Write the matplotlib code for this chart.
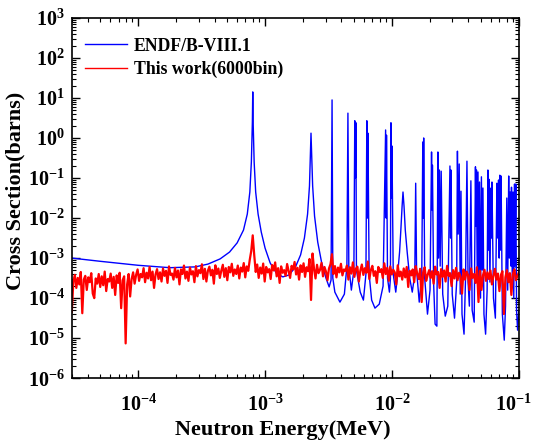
import numpy as np
import matplotlib
matplotlib.use("Agg")
import matplotlib.pyplot as plt
from matplotlib.ticker import LogLocator, FuncFormatter, NullFormatter
from matplotlib.transforms import ScaledTranslation

plt.rcParams["font.family"] = ["Liberation Serif", "DejaVu Serif"]
plt.rcParams["font.weight"] = "bold"
plt.rcParams["mathtext.fontset"] = "custom"
plt.rcParams["mathtext.rm"] = "Liberation Serif:bold"
plt.rcParams["mathtext.bf"] = "Liberation Serif:bold"
plt.rcParams["mathtext.it"] = "Liberation Serif:bold:italic"

# ENDF/B-VIII.1 curve, vertices as (log10 E [MeV], log10 sigma [b])
endf_log_e = [
    -4.523, -4.30, -4.00, -3.75, -3.55, -3.45, -3.354, -3.28, -3.22, -3.17,
    -3.14, -3.12, -3.108, -3.100, -3.097, -3.094, -3.086, -3.074, -3.055, -3.03,
    -3.00, -2.96, -2.91, -2.86, -2.81, -2.76, -2.72, -2.69, -2.665, -2.65,
    -2.642, -2.638, -2.634, -2.625, -2.61, -2.585, -2.555, -2.52, -2.495, -2.480,
    -2.472, -2.466, -2.45, -2.41, -2.375, -2.355, -2.347, -2.340, -2.32, -2.30,
    -2.293, -2.288, -2.284, -2.28, -2.25, -2.225, -2.205, -2.198, -2.193, -2.189,
    -2.18, -2.16, -2.134, -2.10, -2.07, -2.050, -2.046, -2.043, -2.035, -2.02,
    -2.012, -2.008, -2.003, -2.000, -1.99, -1.97, -1.955, -1.94, -1.93, -1.92,
    -1.913, -1.905, -1.895, -1.88, -1.86, -1.84, -1.82, -1.813, -1.806, -1.785,
    -1.765, -1.757, -1.753, -1.750, -1.742, -1.72, -1.70, -1.688, -1.684, -1.681,
    -1.672, -1.660, -1.646, -1.638, -1.633, -1.626, -1.620, -1.612, -1.600, -1.58,
    -1.560, -1.543, -1.538, -1.535, -1.525, -1.507, -1.490, -1.484, -1.478, -1.470,
    -1.462, -1.456, -1.448, -1.432, -1.420, -1.409, -1.400, -1.390, -1.378, -1.368,
    -1.352, -1.342, -1.338, -1.334, -1.328, -1.322, -1.316, -1.310, -1.302, -1.295,
    -1.289, -1.283, -1.275, -1.262, -1.250, -1.244, -1.240, -1.236, -1.228, -1.220,
    -1.215, -1.212, -1.200, -1.185, -1.173, -1.167, -1.160, -1.155, -1.150, -1.145,
    -1.140, -1.130, -1.115, -1.105, -1.095, -1.088, -1.080, -1.075, -1.068, -1.062,
    -1.058, -1.052, -1.046, -1.040, -1.034, -1.030, -1.024, -1.018, -1.010, -1.000,
]
endf_log_xs = [
    -3.00, -3.08, -3.18, -3.24, -3.22, -3.15, -3.02, -2.85, -2.62, -2.30,
    -1.90, -1.35, -0.60, 0.40, 1.15, 0.40, -0.60, -1.35, -1.90, -2.35,
    -2.75, -3.12, -3.38, -3.47, -3.42, -3.22, -2.92, -2.50, -1.90, -1.20,
    -0.30, 0.12, -0.30, -1.20, -1.95, -2.60, -3.10, -3.50, -3.72, -3.55,
    0.95, -3.50, -3.85, -4.10, -3.90, -3.20, 0.62, -3.20, -3.80, -3.30,
    0.43, -1.00, 0.38, -3.30, -3.85, -4.05, -3.40, 0.43, -2.00, 0.12,
    -3.40, -4.05, -4.25, -4.15, -3.70, 0.20, -2.00, 0.07, -3.50, -3.85,
    -3.50, 0.38, -1.50, -0.20, -3.40, -3.85, -3.40, -2.85, -2.30, -1.70,
    -1.35, -1.70, -2.30, -2.85, -3.50, -3.85, -3.40, -1.13, -3.30, -4.10,
    -3.40, -0.10, -2.00, 0.00, -3.50, -4.40, -3.80, -0.35, -1.80, -0.68,
    -3.60, -4.65, -4.70, -0.35, -3.00, -0.80, -3.20, -0.83, -3.90, -4.45,
    -4.20, -0.70, -2.50, -0.80, -3.90, -4.50, -3.60, -0.33, -2.40, -0.65,
    -3.90, -1.33, -4.40, -4.90, -3.50, -0.58, -3.60, -4.20, -1.07, -4.30,
    -4.60, -0.72, -2.20, -0.80, -3.50, -0.85, -3.60, -1.10, -4.00, -0.97,
    -3.30, -1.25, -4.40, -4.90, -3.80, -0.80, -2.80, -1.03, -3.60, -1.25,
    -2.50, -1.10, -4.00, -4.50, -1.13, -2.50, -1.05, -3.00, -0.93, -2.80,
    -0.95, -4.40, -5.05, -4.20, -1.50, -3.80, -0.95, -3.00, -1.35, -3.20,
    -1.23, -3.50, -1.35, -4.00, -1.15, -3.20, -1.15, -4.30, -4.80, -4.30,
]

# This work (6000 bins), sampled values in units of 1e-4 barn, log-spaced energy bins
red_range = (3e-5, 0.1)
red_xs_1e4 = [
    0.45, 2.6, 3.8, 1.8, 3.2, 2.2, 4.5, 0.42, 2.9, 3.6, 1.6, 3.3, 2.5, 4.2, 1.3, 1.0, 3.1, 2.3, 4.0, 1.9,
    3.5, 2.1, 4.6, 1.5, 3.0, 2.6, 4.1, 1.8, 3.4, 1.2, 3.7, 2.4, 4.3, 0.56, 2.8, 3.5, 0.074, 2.2, 4.0, 1.1,
    3.0, 4.4, 2.3, 3.8, 5.2, 2.7, 4.0, 3.3, 5.6, 2.5, 4.3, 3.1, 6.0, 2.8, 4.6, 1.8, 3.9, 5.3, 3.0, 4.4,
    2.6, 5.5, 3.6, 4.8, 2.4, 6.2, 3.8, 4.1, 2.9, 5.7, 3.3, 4.9, 2.2, 5.2, 4.0, 6.5, 3.1, 4.6, 2.7, 5.8,
    3.9, 4.7, 2.5, 6.3, 3.5, 5.0, 4.2, 7.0, 3.0, 5.4, 2.6, 4.8, 6.1, 3.7, 5.1, 2.3, 6.6, 4.0, 5.5, 3.2,
    4.9, 6.8, 3.4, 5.6, 2.8, 6.0, 4.4, 7.2, 3.6, 5.2, 4.0, 6.5, 3.1, 5.8, 4.6, 7.5, 3.3, 6.2, 4.8, 9.0,
    15.0, 37.0, 12.0, 4.5, 6.9, 3.2, 5.8, 4.1, 7.3, 2.6, 6.0, 4.4, 5.3, 3.0, 6.7, 4.9, 7.8, 3.5, 5.6, 2.4,
    6.2, 4.3, 5.0, 3.6, 7.1, 4.8, 3.2, 6.4, 5.2, 8.0, 3.9, 5.7, 2.9, 6.6, 4.5, 7.4, 3.4, 5.9, 4.7, 9.5,
    0.9, 13.0, 5.4, 3.1, 6.8, 4.2, 5.1, 7.6, 3.5, 6.0, 4.6, 2.8, 5.5, 7.0, 12.5, 4.0, 6.3, 3.3, 5.8, 4.4,
    7.2, 3.7, 5.2, 4.8, 6.5, 2.9, 5.9, 4.1, 7.8, 3.4, 5.4, 6.1, 2.6, 4.9, 6.9, 3.8, 5.6, 4.3, 8.2, 3.0,
    5.0, 6.4, 3.6, 4.7, 2.4, 6.0, 4.5, 5.3, 3.2, 7.4, 4.0, 5.7, 2.7, 6.2, 3.9, 5.1, 4.4, 2.2, 6.6, 3.5,
    4.6, 2.9, 5.5, 3.3, 6.0, 1.9, 4.8, 3.7, 5.2, 2.5, 6.3, 4.1, 3.0, 5.4, 0.8, 4.4, 5.9, 2.7, 3.8, 5.0,
    3.2, 4.7, 2.3, 6.1, 3.9, 4.5, 1.8, 5.3, 3.4, 4.9, 2.6, 6.4, 3.6, 4.2, 2.0, 5.0, 3.1, 5.7, 2.8, 4.3,
    3.5, 1.3, 5.2, 2.9, 4.6, 3.8, 1.6, 5.5, 3.2, 4.0, 2.4, 5.9, 0.8, 4.8, 1.6, 3.7, 5.1, 2.7, 4.4, 3.0,
    4.9, 2.2, 3.6, 5.4, 2.9, 4.1, 1.5, 3.8, 4.7, 0.4, 3.3, 5.0, 2.5, 4.2, 1.2, 3.9, 5.2, 2.8, 3.5, 4.4,
]

endf_e = 10.0 ** np.array(endf_log_e)
endf_xs = 10.0 ** np.array(endf_log_xs)
red_e = np.geomspace(red_range[0], red_range[1], len(red_xs_1e4))
red_xs = np.array(red_xs_1e4) * 1e-4

fig = plt.figure(figsize=(5.36, 4.46), dpi=100)
ax = fig.add_axes([0.134, 0.152, 0.834, 0.808])

ax.plot(endf_e, endf_xs, color="#0000ff", lw=1.0, label="ENDF/B-VIII.1")
ax.plot(red_e, red_xs, color="#ff0000", lw=1.6, label="This work(6000bin)")

ax.set_xscale("log")
ax.set_yscale("log")
ax.set_xlim(3e-5, 0.1)
ax.set_ylim(1e-6, 1e3)

fmt = FuncFormatter(lambda v, p: r"$\mathbf{10^{%d}}$" % int(round(np.log10(v))))
ax.xaxis.set_major_locator(LogLocator(base=10, numticks=20))
ax.yaxis.set_major_locator(LogLocator(base=10, numticks=20))
ax.xaxis.set_minor_locator(LogLocator(base=10, subs=np.arange(2, 10), numticks=20))
ax.yaxis.set_minor_locator(LogLocator(base=10, subs=np.arange(2, 10), numticks=20))
ax.xaxis.set_major_formatter(fmt)
ax.yaxis.set_major_formatter(fmt)
ax.xaxis.set_minor_formatter(NullFormatter())
ax.yaxis.set_minor_formatter(NullFormatter())
ax.tick_params(which="both", direction="in", top=True, right=True, labelsize=14.5)
ax.tick_params(which="major", length=6, width=1.0)
ax.tick_params(which="minor", length=3, width=0.8)
ax.tick_params(axis="x", which="major", pad=12)
ax.tick_params(axis="y", which="major", pad=5)
for s in ax.spines.values():
    s.set_linewidth(1.2)

ax.set_xlabel("Neutron Energy(MeV)", fontsize=16, fontweight="bold")
ax.set_ylabel("Cross Section(barns)", fontsize=16, fontweight="bold")
ax.xaxis.set_label_coords(0.472, -0.115)
ax.yaxis.set_label_coords(-0.103, 0.52)

leg = ax.legend(loc="upper left", bbox_to_anchor=(0.013, 0.965), borderaxespad=0,
                frameon=False, fontsize=12.8, handlelength=2.4,
                handletextpad=0.35, labelspacing=0.35)
for h in leg.legend_handles:
    h.set_linewidth(1.0)

# keep the last x tick label inside the figure
fig.canvas.draw()
for lab in ax.get_xticklabels():
    if lab.get_text() == r"$\mathbf{10^{-1}}$":
        lab.set_transform(lab.get_transform() + ScaledTranslation(-5 / 100, 0, fig.dpi_scale_trans))

fig.savefig("out.png", dpi=100)
